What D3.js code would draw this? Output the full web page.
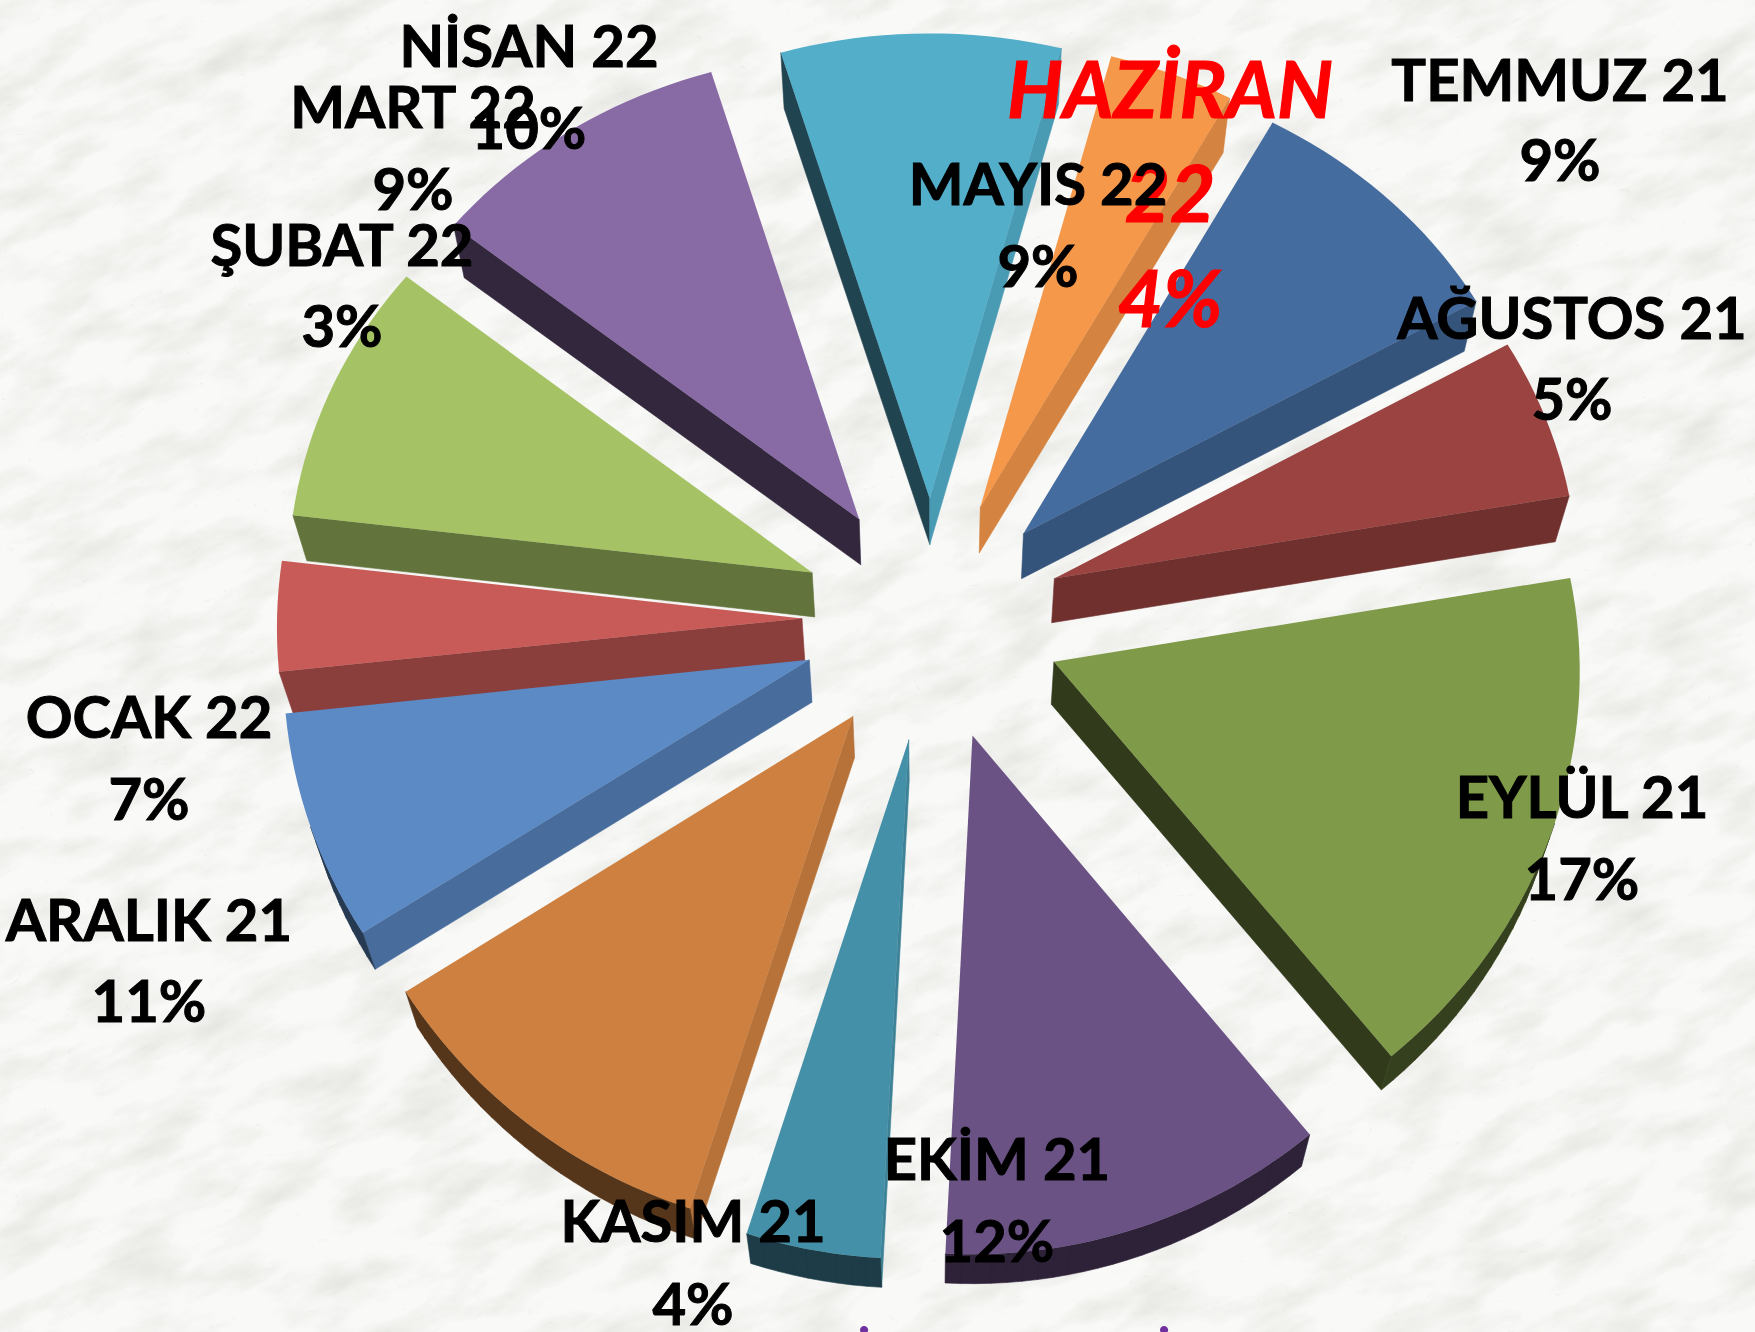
<!DOCTYPE html>
<html>
<head>
<meta charset="utf-8">
<script src="https://cdn.jsdelivr.net/npm/d3@7"></script>
<style>
html, body { margin: 0; padding: 0; background: #f7f7f5; }
svg { display: block; }
text { font-family: Lato, "Open Sans", sans-serif; font-weight: 700; text-anchor: middle; }
</style>
</head>
<body>
<div id="chart"></div>
<script>
// slices run clockwise starting from Haziran 22
const months = ["HAZİRAN 22", "TEMMUZ 21", "AĞUSTOS 21", "EYLÜL 21", "EKİM 21", "KASIM 21",
    "ARALIK 21", "OCAK 22", "ŞUBAT 22", "MART 22", "NİSAN 22", "MAYIS 22"];
// printed labels
const percents = ["4%", "9%", "5%", "17%", "12%", "4%", "11%", "7%", "3%", "9%", "10%", "9%"];
// sizes as measured off the slices themselves
const shares = [3.94, 8.83, 5.39, 16.86, 11.70, 4.06, 11.00, 7.39, 3.61, 8.78, 9.67, 8.78];
const colors = ["#f5984a", "#456c9f", "#9a4340", "#7f9a48", "#6b5285", "#4490a8",
    "#cd8040", "#5b8ac5", "#c85b58", "#a5c365", "#886aa5", "#52aec9"];

// label anchor: x, baseline of name, baseline of percent
const labelAt = [[1170, 118, 327], [1560, 101, 181], [1572, 339, 420], [1582, 818, 900],
    [997, 1180, 1262], [693, 1242, 1325], [149, 941, 1022], [149, 738, 820],
    [342, 266, 347], [413, 128, 210], [529, 67, 149], [1038, 205, 287]];

const width = 1755, height = 1332;
const cx = 932, cy = 619;
const radius = 525, explode = 130;
const tilt = 0.935, perspY = 0.00007, perspX = 0.00003;
const startAngle = 14.8 * Math.PI / 180;

const svg = d3.select("#chart").append("svg")
    .attr("width", width)
    .attr("height", height)
    .attr("viewBox", "0 0 " + width + " " + height);

// marble background: soft clouds plus thin veins
const defs = svg.append("defs");
const clouds = defs.append("filter").attr("id", "clouds")
    .attr("x", 0).attr("y", 0).attr("width", "100%").attr("height", "100%");
clouds.append("feTurbulence")
    .attr("type", "fractalNoise")
    .attr("baseFrequency", "0.012 0.03")
    .attr("numOctaves", 5)
    .attr("seed", 7);
clouds.append("feColorMatrix")
    .attr("type", "matrix")
    .attr("values", "0 0 0 0 0.74  0 0 0 0 0.74  0 0 0 0 0.71  1.6 0 0 0 -0.66");
const veins = defs.append("filter").attr("id", "veins")
    .attr("x", 0).attr("y", 0).attr("width", "100%").attr("height", "100%");
veins.append("feTurbulence")
    .attr("type", "turbulence")
    .attr("baseFrequency", "0.016 0.03")
    .attr("numOctaves", 4)
    .attr("seed", 23);
veins.append("feColorMatrix")
    .attr("type", "matrix")
    .attr("values", "0 0 0 0 0.62  0 0 0 0 0.62  0 0 0 0 0.59  -8 0 0 0 0.55");
svg.append("rect").attr("width", width).attr("height", height).attr("fill", "#f9f9f7");
const bg = svg.append("g").attr("transform", "rotate(-24 877 666)");
bg.append("rect")
    .attr("x", -500).attr("y", -500)
    .attr("width", 2800).attr("height", 2400)
    .attr("filter", "url(#clouds)");
bg.append("rect")
    .attr("x", -500).attr("y", -500)
    .attr("width", 2800).attr("height", 2400)
    .attr("opacity", 0.55)
    .attr("filter", "url(#veins)");

const pie = d3.pie().sort(null).startAngle(startAngle).endAngle(startAngle + 2 * Math.PI);
const arcs = pie(shares);

// pie plane to screen, slightly larger towards the viewer
function project(p) {
    return [cx + p[0] / (1 - perspX * p[1]), cy + tilt * p[1] / (1 - perspY * p[1])];
}
// same point on the underside of the pie
function lower(p) {
    return [cx + (p[0] - cx) * 0.978, p[1] * 0.978 + 57];
}

const wallShade = d3.scaleLinear()
    .domain([-1, -0.55, -0.1, 0.15, 0.6, 1])
    .range([0.4, 0.37, 0.6, 0.72, 0.8, 0.9]);

function shaded(color, k) {
    const c = d3.rgb(color);
    return d3.rgb(c.r * k, c.g * k, c.b * k).formatHex();
}

const line = d3.line();

const slices = arcs.map((d, i) => {
    const mid = (d.startAngle + d.endAngle) / 2;
    const off = d3.pointRadial(mid, explode);
    const steps = Math.ceil((d.endAngle - d.startAngle) / 0.03);
    const angle = d3.scaleLinear().domain([0, steps]).range([d.startAngle, d.endAngle]);
    const rim = d3.range(steps + 1).map(s => {
        const p = d3.pointRadial(angle(s), radius);
        return project([p[0] + off[0], p[1] + off[1]]);
    });
    return {i: i, color: colors[i], apex: project(off), rim: rim, order: off[1]};
});

// back slices first
slices.sort((a, b) => a.order - b.order);

const groups = svg.selectAll("g.slice")
    .data(slices)
    .enter()
    .append("g")
    .classed("slice", true);

groups.each(function(s) {
    const g = d3.select(this);
    const outline = [s.apex].concat(s.rim);
    const n = outline.length;
    let rimPath = "";
    for (let a = 0; a < n; a++) {
        const A = outline[a], B = outline[(a + 1) % n];
        const A2 = lower(A), B2 = lower(B);
        const ex = B[0] - A[0], ey = B[1] - A[1];
        const sx = A2[0] - A[0], sy = A2[1] - A[1];
        // outline runs clockwise, only walls facing us are drawn
        if (ex * sy - ey * sx >= 0) continue;
        if (a > 0 && a < n - 1) {
            rimPath += line([A, B, B2, A2]) + "Z";
            continue;
        }
        const fill = shaded(s.color, wallShade(ey / Math.hypot(ex, ey)));
        g.append("path")
            .attr("d", line([A, B, B2, A2]) + "Z")
            .attr("fill", fill)
            .attr("stroke", fill)
            .attr("stroke-width", 0.6);
    }
    if (rimPath) {
        const rimFill = shaded(s.color, 0.42);
        g.append("path")
            .attr("d", rimPath)
            .attr("fill", rimFill)
            .attr("stroke", rimFill)
            .attr("stroke-width", 0.6);
    }
    g.append("path")
        .attr("d", line(outline) + "Z")
        .attr("fill", s.color);
});

// labels sit over every slice
months.forEach((name, i) => {
    const at = labelAt[i];
    if (i === 0) {
        const parts = name.split(" ");
        [[parts[0], at[1]], [parts[1], 222], [percents[i], at[2]]].forEach(t => {
            svg.append("text")
                .attr("x", at[0])
                .attr("y", t[1])
                .attr("fill", "#ff0000")
                .attr("stroke", "#ff0000")
                .attr("stroke-width", 1.2)
                .attr("font-style", "italic")
                .attr("font-size", 78)
                .text(t[0]);
        });
        return;
    }
    [[name, at[1]], [percents[i], at[2]]].forEach(t => {
        svg.append("text")
            .attr("x", at[0])
            .attr("y", t[1])
            .attr("fill", "#000")
            .attr("stroke", "#000")
            .attr("stroke-width", 1)
            .attr("font-size", 58)
            .text(t[0]);
    });
});

// tops of the caption below the chart, the rest falls outside the picture
[864, 1164].forEach(x => {
    svg.append("text")
        .attr("x", x)
        .attr("y", 1376)
        .attr("fill", "#7030a0")
        .attr("font-size", 54)
        .text("İ");
});
</script>
</body>
</html>
